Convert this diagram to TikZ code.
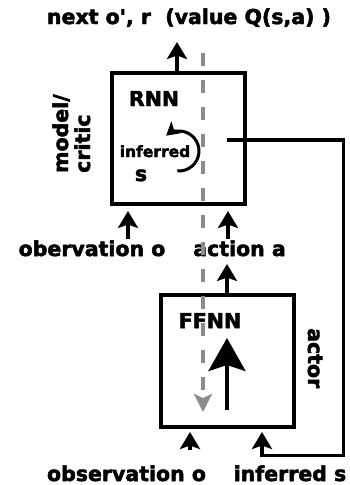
\documentclass[tikz,border=0pt]{standalone}
\usepackage{fontspec}
\newfontfamily\labfont{DejaVu Sans}[UprightFont={* Bold}, FakeBold=2.4]
\usetikzlibrary{arrows.meta}
\definecolor{dashgray}{HTML}{8C8C8C}
\tikzset{
  lbl/.style={font=\fontsize{20.5}{22}\labfont, inner sep=0pt, anchor=base},
  smalllbl/.style={font=\fontsize{15.5}{18}\labfont, inner sep=0pt, anchor=base},
  netbox/.style={draw, line width=4pt, minimum width=133pt, inner sep=0pt},
  arr/.style={line width=3.6pt, -{Stealth[length=17pt,width=20pt,inset=3.5pt]}},
  bigarr/.style={line width=4pt, -{Stealth[length=33pt,width=37pt,inset=6pt]}},
  curvarr/.style={line width=3pt, -{Stealth[length=13pt,width=15pt,inset=3pt]}},
  gdash/.style={dashgray, line width=3.2pt, dash pattern=on 13pt off 14pt,
     -{Stealth[length=18pt,width=18pt,inset=4pt]}}
}
\begin{document}
\begin{tikzpicture}[x=1pt,y=1pt]
\useasboundingbox (0,0) rectangle (350,-485);
% boxes
\node[netbox, minimum height=131pt] (rnn) at (178,-138.5) {};
\node[netbox, minimum height=132pt] (ffnn) at (227.5,-361) {};
% labels
\node[lbl] (title) at (189,-24) {next o\textquotesingle, r\ \ (value Q(s,a) )};
\node[lbl] (rnnl) at (154,-106) {RNN};
\node[smalllbl] (infl) at (155,-157) {inferred};
\node[lbl] (sl) at (141,-181) {s};
\node[lbl, rotate=90, anchor=base west] (model) at (68,-173) {model/};
\node[lbl, rotate=90, anchor=base west] (critic) at (90,-173) {critic};
\node[lbl] (obs1) at (92,-256) {obervation o};
\node[lbl] (act) at (239.5,-256) {action a};
\node[lbl] (ffnnl) at (210,-328) {FFNN};
\node[lbl, rotate=-90, anchor=base west] (actor) at (308,-328) {actor};
\node[lbl] (obs2) at (126.5,-481) {observation o};
\node[lbl] (infs) at (290,-481) {inferred s};
% coordinates
\coordinate (ttip) at (177,-42);
\coordinate (o1) at (128,-239);
\coordinate (a1) at (228,-239);
\coordinate (a2) at (227,-264);
\coordinate (fb1) at (227,-140);
\coordinate (fb2) at (343.5,-455.5);
\coordinate (fb3) at (262,0);
\coordinate (o2) at (190,-450);
\coordinate (big1) at (227,-410);
\coordinate (big2) at (227,-338);
\coordinate (g1) at (203,-53);
\coordinate (g2) at (203,-412);
\coordinate (cc) at (179,-151);
% connectors
\draw[arr] (rnn.north -| ttip) -- (ttip);
\draw[arr, shorten >=5pt] (o1) -- (o1 |- rnn.south);
\draw[arr, shorten >=5pt] (a1) -- (a1 |- rnn.south);
\draw[arr] (a2 |- ffnn.north) -- (a2);
\draw[arr, shorten >=3pt] (fb1) -| (fb2) -- (fb2 -| fb3) -- (fb3 |- ffnn.south);
\draw[arr, shorten >=3pt] (o2) -- (o2 |- ffnn.south);
\draw[bigarr] (big1) -- (big2);
\draw[curvarr] ([shift={(-95:20)}]cc) arc[start angle=-95, end angle=130, radius=20];
\draw[gdash] (g1) -- (g2);
\end{tikzpicture}
\end{document}
